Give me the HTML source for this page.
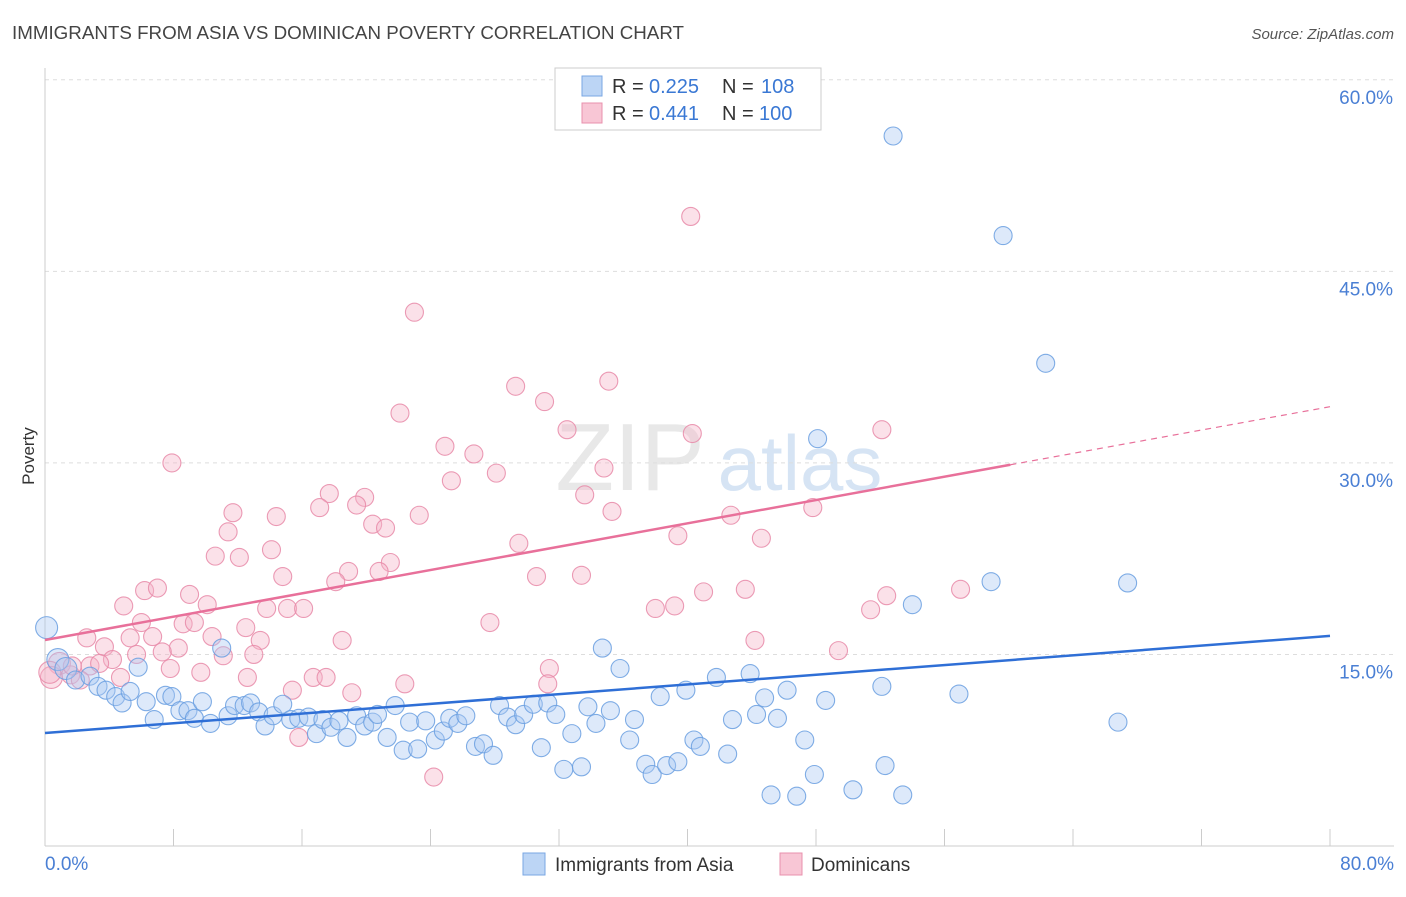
<!DOCTYPE html>
<html><head><meta charset="utf-8">
<style>
body{margin:0;background:#fff;font-family:"Liberation Sans",sans-serif;}
svg text{font-family:"Liberation Sans",sans-serif;}
</style></head>
<body>
<svg id="chart" width="1406" height="892" viewBox="0 0 1406 892">
<text x="12" y="39" font-size="18" fill="#444" textLength="672" lengthAdjust="spacingAndGlyphs">IMMIGRANTS FROM ASIA VS DOMINICAN POVERTY CORRELATION CHART</text>
<text x="1394" y="39" font-size="15" fill="#555" font-style="italic" text-anchor="end">Source: ZipAtlas.com</text>
<g>
<text x="630" y="490" font-size="96" fill="#d9d9d9" font-family="Liberation Serif" text-anchor="middle" opacity="0.6">ZIP</text>
<text x="800" y="490" font-size="78" fill="#bcd3ee" text-anchor="middle" opacity="0.6">atlas</text>
</g>
<g id="grid"></g>
<g id="axes"></g>
<g id="marks"></g>
<text x="34" y="456" font-size="17" fill="#333" text-anchor="middle" transform="rotate(-90 34 456)">Poverty</text>
<g>
<rect x="555" y="68" width="266" height="62" fill="#fff" stroke="#ccc"/>
<rect x="582" y="76" width="20" height="20" fill="#bcd5f5" stroke="#7aa7e3"/>
<text x="612" y="93" font-size="20" fill="#333">R =</text>
<text x="649" y="93" font-size="20" fill="#3a78d4">0.225</text>
<text x="722" y="93" font-size="20" fill="#333">N =</text>
<text x="761" y="93" font-size="20" fill="#3a78d4">108</text>
<rect x="582" y="103" width="20" height="20" fill="#f8c6d5" stroke="#e890ad"/>
<text x="612" y="120" font-size="20" fill="#333">R =</text>
<text x="649" y="120" font-size="20" fill="#3a78d4">0.441</text>
<text x="722" y="120" font-size="20" fill="#333">N =</text>
<text x="759" y="120" font-size="20" fill="#3a78d4">100</text>
</g>
<g>
<rect x="523" y="853" width="22" height="22" fill="#bcd5f5" stroke="#7aa7e3"/>
<text x="555" y="871" font-size="19" fill="#333">Immigrants from Asia</text>
<rect x="780" y="853" width="22" height="22" fill="#f8c6d5" stroke="#e890ad"/>
<text x="811" y="871" font-size="19" fill="#333">Dominicans</text>
</g>
</svg>
<script>
const yTicks=[15,30,45,60];
const yTickLabels=["15.0%","30.0%","45.0%","60.0%"];
const xTicks=[0,8,16,24,32,40,48,56,64,72,80];
const asiaX=[52.8,59.65,62.3,48.1,58.9,67.4,54.0,34.7,35.8,5.8,11.0,0.1,0.8,1.3,1.9,2.8,3.3,3.8,4.4,4.8,5.3,6.3,6.8,7.5,7.9,8.4,8.9,9.3,9.8,10.3,11.4,11.8,12.4,12.8,13.3,13.7,14.2,14.8,15.3,15.8,16.4,16.9,17.3,17.8,18.3,18.8,19.4,19.9,20.4,20.7,21.3,21.8,22.3,22.7,23.2,23.7,24.3,24.8,25.2,25.7,26.2,26.8,27.3,27.9,28.3,28.8,29.3,29.8,30.4,30.9,31.3,31.8,32.3,32.8,33.4,33.8,34.3,35.2,36.4,36.7,37.4,37.8,38.3,38.7,39.4,39.9,40.4,40.8,41.8,42.5,42.8,43.9,44.3,44.8,45.2,45.6,46.2,46.8,47.3,47.9,48.6,50.3,52.1,52.3,53.4,56.9,66.8];
const asiaY=[55.6,47.8,37.8,31.9,20.7,20.6,18.9,15.5,13.9,14.0,15.5,17.1,14.6,13.9,13.0,13.3,12.5,12.2,11.7,11.2,12.1,11.3,9.9,11.8,11.7,10.6,10.6,10.0,11.3,9.6,10.2,11.0,11.0,11.2,10.5,9.4,10.2,11.1,9.9,10.0,10.1,8.8,9.9,9.3,9.8,8.5,10.2,9.4,9.7,10.3,8.5,11.0,7.5,9.7,7.6,9.8,8.3,9.0,10.0,9.6,10.2,7.8,8.0,7.1,11.0,10.1,9.5,10.3,11.1,7.7,11.2,10.3,6.0,8.8,6.2,10.9,9.6,10.6,8.3,9.9,6.4,5.6,11.7,6.3,6.6,12.2,8.3,7.8,13.2,7.2,9.9,13.5,10.3,11.6,4.0,10.0,12.2,3.9,8.3,5.6,11.4,4.4,12.5,6.3,4.0,11.9,9.7];
const domX=[40.2,23.0,29.3,35.1,31.1,22.1,32.5,40.3,52.1,24.9,26.7,34.8,28.1,25.3,7.9,33.6,17.7,19.9,19.4,17.1,35.3,11.7,14.4,23.3,42.7,47.8,20.4,21.2,11.4,29.5,39.4,44.6,14.1,10.6,12.1,21.5,18.9,20.8,14.8,18.1,33.4,30.6,6.2,7.0,9.0,41.0,43.6,52.4,57.0,4.9,10.1,13.8,15.1,16.1,38.0,39.2,51.4,6.0,8.6,9.3,27.7,12.5,5.3,6.7,10.4,13.4,18.5,44.2,2.6,3.7,8.3,7.3,5.7,11.1,13.0,49.4,4.2,2.8,4.7,7.8,9.7,12.6,0.9,1.6,0.4,2.2,31.4,22.4,15.4,16.7,17.5,19.1,31.3,15.8,24.2,0.3,1.7,3.4];
const domY=[49.3,41.8,36.0,36.4,34.8,33.9,32.6,32.3,32.6,31.3,30.7,29.6,29.2,28.6,30.0,27.5,27.6,27.3,26.7,26.5,26.2,26.1,25.8,25.9,25.9,26.5,25.2,24.9,24.6,23.7,24.3,24.1,23.2,22.7,22.6,22.2,21.5,21.5,21.1,20.7,21.2,21.1,20.0,20.2,19.7,19.9,20.1,19.6,20.1,18.8,18.9,18.6,18.6,18.6,18.6,18.8,18.5,17.5,17.4,17.5,17.5,17.1,16.3,16.4,16.4,16.1,16.1,16.1,16.3,15.6,15.5,15.2,15.0,14.9,15.0,15.3,14.6,14.1,13.2,13.9,13.6,13.2,14.3,13.4,13.2,13.0,13.9,12.7,12.2,13.2,13.2,12.0,12.7,8.5,5.4,13.6,14.1,14.3];
const asiaTrend=[8.85,16.45];
const domTrend=[16.13,34.4];
const domSolidEnd=60.1;

const NS="http://www.w3.org/2000/svg";
const X0=45,X1=1330,Y0=846,YPX=12.77;
function sx(v){return X0+(X1-X0)*v/80;}
function sy(v){return Y0-v*YPX;}
function mk(tag,attrs,parent){const e=document.createElementNS(NS,tag);for(const k in attrs)e.setAttribute(k,attrs[k]);parent.appendChild(e);return e;}
const grid=document.getElementById('grid'),axes=document.getElementById('axes'),marks=document.getElementById('marks');
yTicks.forEach((t,i)=>{
 const l=mk('line',{x1:X0,x2:1394,y1:sy(t),y2:sy(t),stroke:'#ddd','stroke-dasharray':'4,4'},grid);
 
 
 const tx=mk('text',{x:1393,y:sy(t)+24,'font-size':19,fill:'#4a7fd4','text-anchor':'end'},axes);
 tx.textContent=yTickLabels[i];
 
 
});
const ax=mk('line',{x1:X0,x2:1394,y1:Y0,y2:Y0,stroke:'#ccc'},axes);


const ay=mk('line',{x1:X0,x2:X0,y1:68,y2:Y0,stroke:'#ccc'},axes);


xTicks.forEach(t=>{
 const l=mk('line',{x1:sx(t),x2:sx(t),y1:Y0,y2:Y0-17,stroke:'#ccc'},axes);
 
 
});
const xl0=mk('text',{x:45,y:870,'font-size':19,fill:'#4a7fd4'},axes);xl0.textContent='0.0%';


const xl1=mk('text',{x:1394,y:870,'font-size':19,fill:'#4a7fd4','text-anchor':'end'},axes);xl1.textContent='80.0%';



function pts(xs,ys,fill,stroke,name){
 xs.forEach((x,i)=>{
  const r=x<1.5?11:9;
  const c=mk('circle',{cx:sx(x),cy:sy(ys[i]),r:r,fill:fill,'fill-opacity':0.4,stroke:stroke,'stroke-width':1.1,'stroke-opacity':0.85},marks);
  
  
 });
}
pts(domX,domY,'#f5b3c8','#e88aa8','dominican-point');
pts(asiaX,asiaY,'#a9c8f2','#6a9fe0','asia-point');
const bt=mk('line',{x1:sx(0),y1:sy(asiaTrend[0]),x2:sx(80),y2:sy(asiaTrend[1]),stroke:'#2f6fd6','stroke-width':2.5},marks);


const ym=domTrend[0]+(domTrend[1]-domTrend[0])*domSolidEnd/80;
const pt=mk('line',{x1:sx(0),y1:sy(domTrend[0]),x2:sx(domSolidEnd),y2:sy(ym),stroke:'#e8709a','stroke-width':2.5},marks);


const pd=mk('line',{x1:sx(domSolidEnd),y1:sy(ym),x2:sx(80),y2:sy(domTrend[1]),stroke:'#e8709a','stroke-width':1.2,'stroke-dasharray':'6,5'},marks);


</script>
</body></html>
